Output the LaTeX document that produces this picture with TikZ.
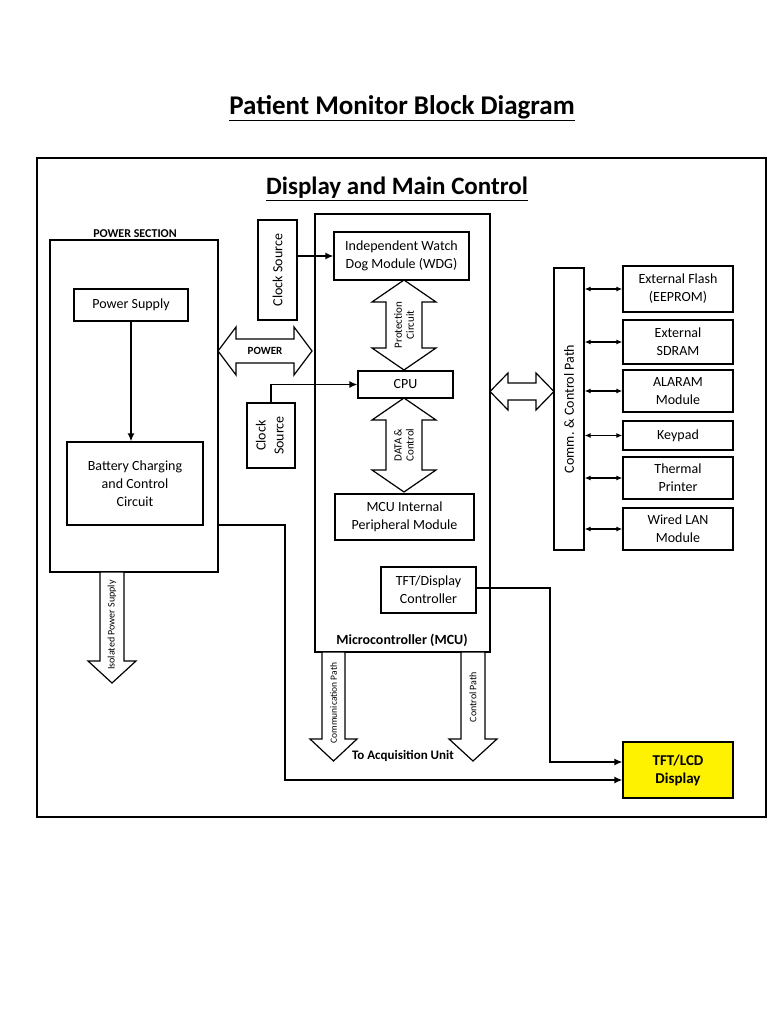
\documentclass[tikz,border=0pt]{standalone}
\usepackage{fontspec}
\setmainfont{Carlito}
\usetikzlibrary{arrows.meta,calc}
\tikzstyle{blk}=[draw=black,line width=1.2pt,fill=white,align=center,inner sep=2pt,
  font=\fontsize{14}{18}\selectfont]
\tikzstyle{side}=[blk,minimum width=110pt]
\tikzstyle{fat}=[draw=black,line width=1.2pt,fill=white]
\tikzstyle{lbl}=[font=\fontsize{11}{12}\selectfont,align=center]
\tikzstyle{con}=[line width=1.5pt,-{Latex[length=8pt,width=7pt]}]
\tikzstyle{dcon}=[line width=1.5pt,{Latex[length=6pt,width=5pt]}-{Latex[length=6pt,width=5pt]}]
\begin{document}
\begin{tikzpicture}[x=1pt,y=-1pt]
		\useasboundingbox (0,0) rectangle (768,1024);
		\node [font=\fontsize{27}{30}\selectfont\bfseries] (title) at (402,108) {\underline{Patient Monitor Block Diagram}};
		\draw [line width=1.5pt] (37,158) rectangle (766,817);
		\node [font=\fontsize{25}{28}\selectfont\bfseries] (sub) at (397,189) {\underline{Display and Main Control}};
		% power section
		\draw [line width=1.2pt] (50,240) rectangle (218,572);
		\node [fill=white,inner sep=1pt,font=\fontsize{12}{14}\selectfont\bfseries] (ps) at (135,234) {POWER SECTION};
		\node [blk,minimum width=114pt,minimum height=32pt] (supply) at (131,305) {Power Supply};
		\node [blk,minimum width=136pt,minimum height=83pt] (batt) at (135,483.5) {Battery Charging\\and Control\\Circuit};
		\draw [con] (supply.south) -- (supply.south |- batt.north);
		% MCU
		\draw [line width=1.2pt] (315,214) rectangle (490,652);
		\node [font=\fontsize{14}{16}\selectfont\bfseries] (mcu) at (402,640) {Microcontroller (MCU)};
		\node [blk,minimum width=135pt,minimum height=48pt] (wdg) at (401.5,256) {Independent Watch\\Dog Module (WDG)};
		\node [blk,minimum width=95pt,minimum height=27pt] (cpu) at (405.5,384.5) {CPU};
		\node [blk,minimum width=139pt,minimum height=46pt] (per) at (404.5,517) {MCU Internal\\Peripheral Module};
		\node [blk,minimum width=95pt,minimum height=46pt] (tftc) at (428.5,590) {TFT/Display\\Controller};
		\node [blk,minimum width=39pt,minimum height=100pt] (clk1) at (277.5,270) {\rotatebox{90}{Clock Source}};
		\node [blk,minimum width=48pt,minimum height=65pt] (clk2) at (271,435.5) {\rotatebox{90}{\begin{tabular}{c}Clock\\Source\end{tabular}}};
		\draw [con] (clk1.east |- wdg.west) -- (wdg.west);
		\draw [con] (clk2.north) |- (cpu.west);
		% fat arrows
		\draw [fat] (218,351) -- (236,327) -- (236,339) -- (294,339) -- (294,327) -- (312,351)
		  -- (294,375) -- (294,363) -- (236,363) -- (236,375) -- cycle;
		\node [font=\fontsize{11}{12}\selectfont\bfseries] (pw) at (265,351) {POWER};
		\draw [fat] (404,280) -- (436,302) -- (422,302) -- (422,348) -- (436,348) -- (404,370)
		  -- (372,348) -- (386,348) -- (386,302) -- (372,302) -- cycle;
		\node [lbl,rotate=90] (prot) at (404,325) {Protection\\Circuit};
		\draw [fat] (404,398) -- (436,420) -- (422,420) -- (422,470) -- (436,470) -- (404,492)
		  -- (372,470) -- (386,470) -- (386,420) -- (372,420) -- cycle;
		\node [lbl,rotate=90] (dc) at (404,445) {DATA \&\\Control};
		\draw [fat] (490,391.5) -- (508,373) -- (508,383) -- (536,383) -- (536,373) -- (554,391.5)
		  -- (536,410) -- (536,400) -- (508,400) -- (508,410) -- cycle;
		\draw [fat] (100,572) -- (124,572) -- (124,661) -- (136,661) -- (112,683) -- (88,661) -- (100,661) -- cycle;
		\node [font=\fontsize{10}{11}\selectfont,rotate=90] (iso) at (112,625) {Isolated Power Supply};
		\draw [fat] (322,652) -- (345,652) -- (345,739) -- (357,739) -- (333.5,761) -- (310,739) -- (322,739) -- cycle;
		\node [font=\fontsize{9.5}{11}\selectfont,rotate=90] (cp) at (333.5,703) {Communication Path};
		\draw [fat] (461,652) -- (485,652) -- (485,739) -- (497,739) -- (473,761) -- (449,739) -- (461,739) -- cycle;
		\node [font=\fontsize{10}{11}\selectfont,rotate=90] (ctl) at (473,697) {Control Path};
		\node [font=\fontsize{13}{15}\selectfont\bfseries] (acq) at (403,756) {To Acquisition Unit};
		% display
		\node [blk,fill=yellow,minimum width=110pt,minimum height=56pt,font=\fontsize{15}{18}\selectfont\bfseries] (lcd) at (678,770) {TFT/LCD\\Display};
		\coordinate (bend) at (550,588);
		\draw [con] (tftc.east |- bend) -- (bend) |- ($(lcd.west)+(0,-8)$);
		\draw [con] (218,525) -- (285,525) |- ($(lcd.west)+(0,10)$);
		% comm path and peripherals
		\node [blk,minimum width=30pt,minimum height=282pt] (bus) at (569,409) {\rotatebox{90}{Comm. \& Control Path}};
		\node [side,minimum height=46pt] (flash) at (678,289) {External Flash\\(EEPROM)};
		\node [side,minimum height=44pt] (sdram) at (678,342) {External\\SDRAM};
		\node [side,minimum height=42pt] (alarm) at (678,391) {ALARAM\\Module};
		\node [side,minimum height=29pt] (key) at (678,435.5) {Keypad};
		\node [side,minimum height=42pt] (prn) at (678,478) {Thermal\\Printer};
		\node [side,minimum height=42pt] (lan) at (678,529) {Wired LAN\\Module};
		\foreach \p in {flash,sdram,alarm,key,prn,lan}
			\draw [dcon] (bus.east |- \p.west) -- (\p.west);
\end{tikzpicture}
\end{document}
